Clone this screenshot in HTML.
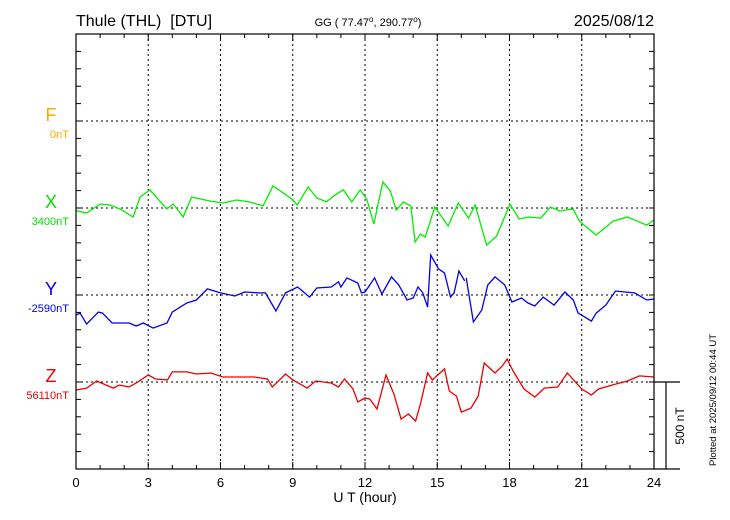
<!DOCTYPE html>
<html><head><meta charset="utf-8"><style>
body{margin:0;background:#fff;}
svg{display:block;font-family:"Liberation Sans",sans-serif;}
</style></head><body>
<svg id="chart" width="730" height="520" viewBox="0 0 730 520">
<g id="grid"></g>
<g id="series"></g>
<g id="axes"></g>
<text x="76" y="26" font-size="16">Thule (THL) &#160;[DTU]</text>
<text x="368" y="26" font-size="11" text-anchor="middle">GG ( 77.47<tspan font-size="8" dy="-4">o</tspan><tspan dy="4">, 290.77</tspan><tspan font-size="8" dy="-4">o</tspan><tspan dy="4">)</tspan></text>
<text x="654" y="26" font-size="16" text-anchor="end">2025/08/12</text>
<text x="365" y="502" font-size="14" text-anchor="middle">U T (hour)</text>
<text transform="translate(684,426) rotate(-90)" font-size="12" text-anchor="middle">500 nT</text>
<text transform="translate(716,400) rotate(-90)" font-size="9.5" text-anchor="middle">Plotted at 2025/09/12 00:44 UT</text>
</svg>
<script>
const hoursX=[0,0.44,1.0,1.4,1.83,2.37,2.66,3.07,3.77,4.04,4.45,4.8,5.56,6.1,6.66,7.2,7.77,8.18,8.96,9.19,9.64,9.99,10.4,10.76,11.1,11.45,11.8,12.07,12.37,12.74,13.05,13.3,13.6,13.9,14.08,14.3,14.5,14.9,15.45,15.87,16.3,16.57,17.05,17.47,18.02,18.4,18.8,19.3,19.7,20.1,20.64,20.9,21.6,22.3,22.9,23.7,24];
const valuesX=[-16,-29,23,17,-6,-52,63,104,-6,23,-52,63,40,29,46,35,12,127,52,17,121,58,35,75,104,35,104,52,-92,150,98,-12,35,12,-196,-150,-167,6,-104,29,-58,17,-213,-161,23,-63,-52,-58,6,-17,-6,-75,-155,-75,-52,-98,-69];
const hoursY=[0,0.17,0.44,0.93,1.1,1.5,2.2,2.5,2.8,3.2,3.78,4.0,4.6,5.0,5.45,6.0,6.6,7.0,7.6,7.87,8.3,8.7,9.2,9.7,10.0,10.6,10.9,11.0,11.25,11.7,11.85,12.0,12.4,12.7,13.1,13.4,13.75,14.0,14.2,14.4,14.6,14.73,15.05,15.3,15.55,15.7,15.9,16.14,16.17,16.2,16.5,16.85,17.1,17.4,17.8,18.1,18.5,18.77,19.05,19.4,19.85,20.3,20.65,20.85,21.4,21.6,22.0,22.4,22.8,23.2,23.7,24];
const valuesY=[-115,-104,-167,-98,-104,-161,-161,-178,-161,-190,-161,-98,-46,-29,35,12,-6,17,12,12,-92,12,46,-12,40,46,75,46,98,69,12,17,98,6,104,58,-29,-17,46,12,-69,230,150,127,-12,12,138,81,null,98,-155,-86,58,104,58,-40,-17,-46,-63,-12,-58,17,-29,-104,-150,-104,-58,23,17,12,-29,-23];
const hoursZ=[0,0.44,0.86,1.55,1.8,2.2,2.5,3.0,3.3,3.8,4.0,4.6,5.0,5.6,6.1,6.7,7.4,7.95,8.15,8.7,9.0,9.6,9.95,10.6,10.9,11.15,11.5,11.7,12.0,12.2,12.5,12.87,13.2,13.5,13.8,14.1,14.3,14.6,14.8,15.3,15.5,15.8,16.0,16.4,16.7,16.95,17.4,17.7,17.9,18.15,18.6,19.05,19.45,20.0,20.4,21.0,21.4,21.7,22.4,22.9,23.4,24];
const valuesZ=[-46,-35,6,-35,-17,-29,-6,40,17,12,58,58,46,52,29,29,29,17,-29,46,12,-35,6,-6,-29,17,-40,-115,-92,-98,-155,40,-69,-213,-184,-224,-127,52,12,75,-52,-81,-173,-150,-81,109,52,92,132,63,-40,-86,-35,-29,52,-40,-75,-40,-12,6,35,29];
const tickHours=[0,3,6,9,12,15,18,21,24];
const NS="http://www.w3.org/2000/svg";
const L=76,R=654,T=34,B=469;
const xs=h=>L+(R-L)*h/24;
const pxPerNT=87/500;
const baseF=121,baseX=208,baseY=295,baseZ=382;
const ys=(v,base)=>base-v*pxPerNT;
function mk(tag,attrs,parent){const e=document.createElementNS(NS,tag);for(const k in attrs)e.setAttribute(k,attrs[k]);parent.appendChild(e);return e;}
const grid=document.getElementById('grid'),axes=document.getElementById('axes'),ser=document.getElementById('series');
tickHours.slice(1,-1).forEach(h=>{const l=mk('line',{x1:xs(h),x2:xs(h),y1:T,y2:B,stroke:'#000','stroke-width':1,'stroke-dasharray':'2,3'},grid);

});
[baseF,baseX,baseY,baseZ].forEach(b=>{const l=mk('line',{x1:L,x2:R,y1:b,y2:b,stroke:'#000','stroke-width':1,'stroke-dasharray':'2,3'},grid);

});
const fr=mk('rect',{x:L,y:T,width:R-L,height:B-T,fill:'none',stroke:'#000','stroke-width':1.2},axes);


for(let h=0;h<=24;h++){
 const len=(h%3===0)?7:4;
 mk('line',{x1:xs(h),x2:xs(h),y1:B,y2:B-len,stroke:'#000'},axes);
 mk('line',{x1:xs(h),x2:xs(h),y1:T,y2:T+len,stroke:'#000'},axes);
}
for(let y=B;y>=T;y-=87/5){mk('line',{x1:L,x2:L+5,y1:y,y2:y,stroke:'#000'},axes);mk('line',{x1:R,x2:R-5,y1:y,y2:y,stroke:'#000'},axes);}
tickHours.forEach(h=>{const t=mk('text',{x:xs(h),y:487,'font-size':13,'text-anchor':'middle'},axes);t.textContent=h;

});
const sb=mk('path',{d:`M${R} ${baseZ}H680M666 ${baseZ}V${B}M${R} ${B}H680`,stroke:'#000',fill:'none','stroke-width':1.2},axes);


[['F','0nT','#ffaa00',baseF],['X','3400nT','#00dd00',baseX],['Y','-2590nT','#0000ee',baseY],['Z','56110nT','#ee0000',baseZ]].forEach(([c,v,col,b])=>{
 const a=mk('text',{x:51,y:b,'font-size':18,fill:col,'text-anchor':'middle'},axes);a.textContent=c;
 
 
 const s=mk('text',{x:69,y:b+17,'font-size':11,fill:col,'text-anchor':'end'},axes);s.textContent=v;
 
 
});
function line(hs,vs,base,col,name){
 let d='',pen=false;
 hs.forEach((h,i)=>{const v=vs[i];if(v===null){pen=false;return;}d+=(pen?'L':'M')+xs(h).toFixed(1)+' '+ys(v,base).toFixed(1);pen=true;});
 const p=mk('path',{d:d,fill:'none',stroke:col,'stroke-width':1.3},ser);
 
 
}
line(hoursX,valuesX,baseX,'#00ee00','x-series');
line(hoursY,valuesY,baseY,'#0000ee','y-series');
line(hoursZ,valuesZ,baseZ,'#ee0000','z-series');
</script>
</body></html>
